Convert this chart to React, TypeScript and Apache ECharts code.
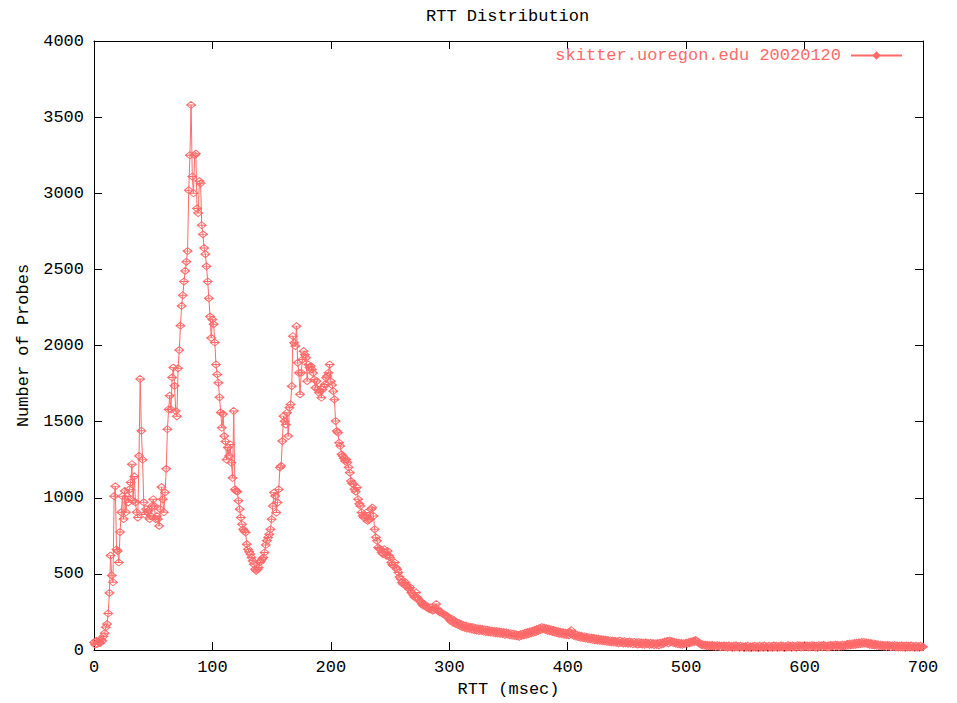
import React, { useEffect, useRef } from 'react';
import * as echarts from 'echarts';

const chartTitle = 'RTT Distribution';
const seriesName = 'skitter.uoregon.edu 20020120';
const xAxisName = 'RTT (msec)';
const yAxisName = 'Number of Probes';
const binWidthMs = 1;

// probe counts per 1-ms RTT bin
const counts000to099 = [
  50, 35, 60, 40, 55, 45, 70, 60, 90, 110,
  150, 170, 240, 375, 620, 490, 445, 1010, 1075, 660,
  650, 575, 775, 905, 1010, 860, 1045, 905, 1010, 970,
  1055, 1100, 1220, 980, 1140, 970, 905, 870, 1275, 1780,
  1440, 1250, 970, 890, 925, 905, 915, 860, 880, 945,
  990, 945, 860, 880, 860, 815, 925, 1070, 990, 905,
  1035, 1190, 1450, 1580, 1670, 1580, 1790, 1855, 1735, 1570,
  1535, 1850, 1970, 2130, 2260, 2330, 2420, 2490, 2550, 2620,
  3020, 3250, 3580, 3110, 3000, 3250, 3260, 2900, 2870, 3080,
  3065, 2790, 2730, 2640, 2600, 2520, 2420, 2310, 2190, 2050,
];
const counts100to199 = [
  2170, 2140, 2020, 1875, 1810, 1755, 1660, 1560, 1460, 1550,
  1405, 1370, 1250, 1330, 1275, 1350, 1230, 1130, 1570, 1055,
  1045, 1040, 980, 925, 870, 826, 793, 782, 772, 695,
  662, 645, 630, 608, 585, 564, 531, 520, 530, 542,
  575, 585, 597, 608, 640, 690, 717, 739, 760, 793,
  859, 946, 1034, 1012, 903, 968, 1055, 1198, 1209, 1372,
  1536, 1503, 1480, 1558, 1405, 1591, 1613, 1733, 2061, 2018,
  1996, 2127, 1886, 1821, 1679, 1821, 1908, 1963, 1940, 1919,
  1766, 1875, 1854, 1865, 1843, 1820, 1777, 1722, 1766, 1711,
  1690, 1700, 1657, 1711, 1730, 1744, 1788, 1800, 1821, 1875,
];
const counts200to299 = [
  1766, 1740, 1700, 1646, 1504, 1438, 1427, 1361, 1340, 1285,
  1274, 1260, 1241, 1252, 1231, 1200, 1165, 1110, 1095, 1089,
  1056, 1040, 1067, 990, 960, 946, 903, 881, 870, 885,
  903, 848, 855, 859, 925, 935, 880, 793, 740, 717,
  673, 665, 662, 640, 630, 662, 640, 619, 650, 620,
  608, 575, 560, 553, 575, 540, 531, 509, 480, 466,
  444, 433, 440, 444, 422, 410, 400, 411, 378, 370,
  356, 345, 378, 345, 334, 323, 315, 302, 291, 302,
  290, 280, 275, 269, 280, 265, 258, 262, 275, 302,
  269, 255, 247, 250, 240, 236, 230, 228, 225, 215,
];
const counts300to399 = [
  203, 192, 205, 180, 196, 172, 184, 166, 178, 158,
  170, 150, 164, 146, 160, 140, 156, 138, 152, 134,
  150, 130, 146, 128, 142, 124, 140, 126, 138, 120,
  136, 118, 134, 116, 130, 114, 128, 112, 126, 110,
  124, 108, 122, 106, 120, 104, 118, 100, 116, 102,
  112, 96, 110, 94, 108, 92, 104, 90, 100, 86,
  104, 92, 108, 96, 114, 100, 118, 104, 122, 110,
  126, 112, 132, 118, 138, 124, 144, 130, 150, 136,
  148, 132, 144, 126, 140, 122, 136, 118, 132, 114,
  128, 110, 124, 106, 120, 104, 118, 100, 114, 98,
];
const counts400to499 = [
  112, 96, 118, 130, 102, 92, 106, 88, 100, 84,
  96, 80, 92, 78, 90, 74, 86, 72, 84, 70,
  82, 66, 80, 64, 76, 62, 74, 60, 72, 58,
  70, 56, 68, 54, 66, 52, 64, 50, 62, 48,
  60, 46, 58, 44, 62, 46, 56, 42, 58, 44,
  54, 40, 56, 42, 52, 38, 54, 40, 50, 36,
  52, 38, 50, 36, 48, 34, 50, 38, 46, 34,
  48, 36, 46, 32, 44, 34, 46, 30, 48, 36,
  50, 40, 56, 48, 60, 44, 62, 50, 58, 46,
  54, 42, 50, 38, 48, 36, 46, 34, 44, 40,
];
const counts500to599 = [
  48, 40, 52, 44, 56, 48, 60, 52, 66, 58,
  54, 44, 40, 32, 38, 28, 36, 26, 34, 24,
  32, 24, 34, 22, 30, 20, 32, 22, 30, 18,
  28, 20, 30, 18, 28, 16, 30, 18, 26, 14,
  28, 16, 30, 18, 26, 14, 28, 18, 24, 12,
  26, 16, 28, 14, 24, 12, 26, 16, 28, 14,
  24, 12, 28, 16, 26, 14, 30, 18, 24, 12,
  28, 16, 26, 14, 30, 18, 28, 14, 26, 16,
  30, 18, 28, 12, 26, 16, 32, 18, 28, 14,
  30, 18, 26, 14, 32, 20, 30, 16, 28, 18,
];
const counts600to700 = [
  32, 20, 30, 16, 28, 18, 32, 20, 30, 16,
  28, 14, 32, 20, 30, 18, 34, 20, 28, 16,
  30, 18, 34, 22, 32, 20, 36, 22, 34, 20,
  32, 22, 36, 24, 34, 26, 40, 28, 42, 30,
  44, 32, 46, 34, 48, 36, 50, 38, 52, 40,
  54, 42, 50, 38, 48, 34, 46, 32, 44, 30,
  40, 28, 38, 26, 36, 24, 34, 22, 32, 20,
  34, 22, 32, 18, 30, 20, 32, 18, 30, 16,
  28, 18, 30, 16, 28, 14, 30, 18, 28, 16,
  30, 18, 26, 14, 28, 16, 26, 14, 28, 18,
  22,
];

const FONT = '"Liberation Mono", "DejaVu Sans Mono", monospace';
const RED = '#ff6a6a';
const MARK = 'path://M4,0L8,3.5L4,7L0,3.5Z M0,3.5L8,3.5';

export default function App() {
  const ref = useRef<HTMLDivElement>(null);
  useEffect(() => {
    document.body.style.margin = '0';
    if (!ref.current) return;
    const chart = echarts.init(ref.current, undefined, { renderer: 'svg' });
    const counts = [
      ...counts000to099, ...counts100to199, ...counts200to299, ...counts300to399,
      ...counts400to499, ...counts500to599, ...counts600to700,
    ];
    const data = counts.map((v, i) => [i * binWidthMs, v]);
    const labelStyle = { fontFamily: FONT, fontSize: 17, color: '#000' };
    const mkLine = () => ({ show: true, onZero: false, lineStyle: { color: '#000', width: 1 } });
    const mkTick = () => ({ show: true, inside: true, length: 8, lineStyle: { color: '#000', width: 1 } });
    chart.setOption({
      animation: false,
      backgroundColor: '#fff',
      title: {
        text: chartTitle,
        left: 426,
        top: 8,
        padding: 0,
        textStyle: { fontFamily: FONT, fontSize: 17, fontWeight: 'normal', color: '#000' },
      },
      legend: {
        data: [seriesName],
        right: 54,
        top: 47,
        align: 'right',
        itemWidth: 51,
        itemHeight: 7,
        padding: 0,
        textStyle: { fontFamily: FONT, fontSize: 17, color: RED, padding: [0, 5, 0, 0] },
      },
      grid: { left: 94, right: 34, top: 41, bottom: 52, containLabel: false },
      xAxis: [
        {
          type: 'value', min: 0, max: 700, interval: 100, position: 'bottom',
          name: xAxisName, nameLocation: 'middle', nameGap: 31,
          nameTextStyle: labelStyle,
          axisLine: mkLine(), axisTick: mkTick(),
          axisLabel: { ...labelStyle, margin: 9, formatter: (v: number) => String(v) },
          splitLine: { show: false },
        },
        {
          type: 'value', min: 0, max: 700, interval: 100, position: 'top',
          axisLine: mkLine(), axisTick: mkTick(), axisLabel: { show: false }, splitLine: { show: false },
        },
      ],
      yAxis: [
        {
          type: 'value', min: 0, max: 4000, interval: 500, position: 'left',
          name: yAxisName, nameLocation: 'middle', nameGap: 52, nameRotate: 90,
          nameTextStyle: labelStyle,
          axisLine: mkLine(), axisTick: mkTick(),
          axisLabel: { ...labelStyle, margin: 10, formatter: (v: number) => String(v) },
          splitLine: { show: false },
        },
        {
          type: 'value', min: 0, max: 4000, interval: 500, position: 'right',
          axisLine: mkLine(), axisTick: mkTick(), axisLabel: { show: false }, splitLine: { show: false },
        },
      ],
      series: [
        {
          name: seriesName,
          type: 'line',
          xAxisIndex: 0,
          yAxisIndex: 0,
          data,
          symbol: MARK,
          symbolSize: [9, 7],
          showAllSymbol: true,
          lineStyle: { color: RED, width: 1 },
          itemStyle: { color: 'rgba(255,255,255,0)', borderColor: RED, borderWidth: 1 },
          emphasis: { disabled: true },
        },
      ],
    });
    return () => chart.dispose();
  }, []);
  return <div ref={ref} style={{ width: 957, height: 703 }} />;
}
